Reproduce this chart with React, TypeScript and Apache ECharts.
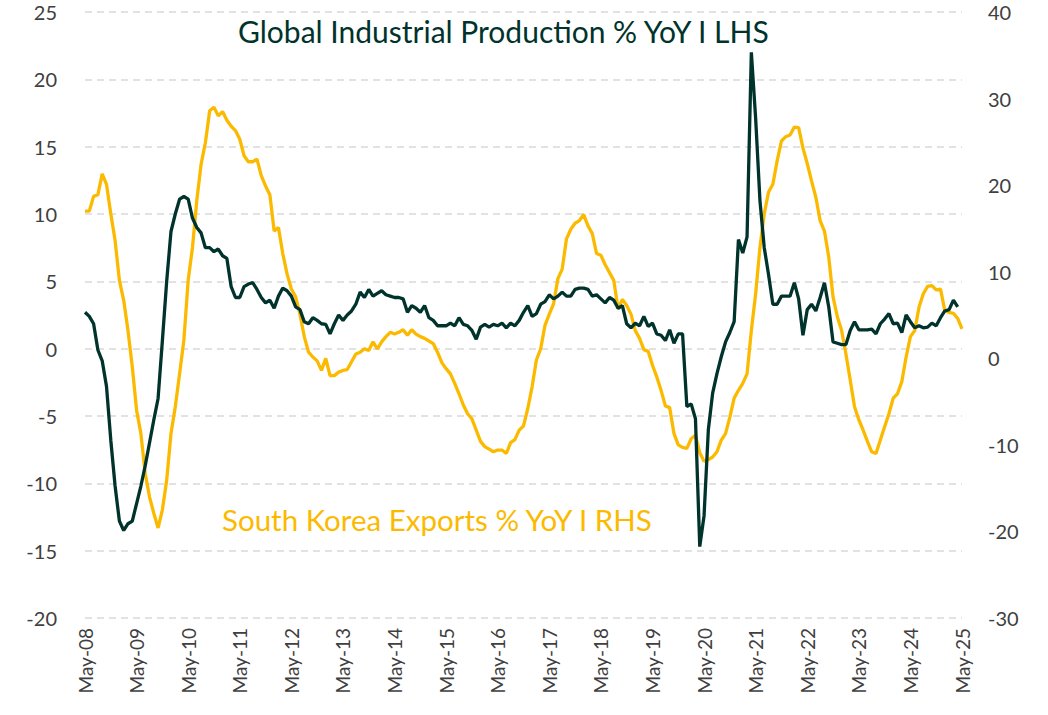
import React, { useEffect, useRef } from "react";
import * as echarts from "echarts";

const startYear = 2008;
const startMonth = 4; // May (0-based)
const monthCount = 205;
const monthNames = ["Jan", "Feb", "Mar", "Apr", "May", "Jun", "Jul", "Aug", "Sep", "Oct", "Nov", "Dec"];
const categories: string[] = [];
for (let k = 0; k < monthCount; k++) {
  const m = (startMonth + k) % 12;
  const y = startYear + Math.floor((startMonth + k) / 12);
  categories.push(`${monthNames[m]}-${String(y % 100).padStart(2, "0")}`);
}

const leftTicks = { min: -20, max: 25, interval: 5 };
const rightTicks = { min: -30, max: 40, interval: 10 };

const globalIP: (number | null)[] = [
  2.7, 2.4, 1.85, -0.1, -0.9, -2.8, -6.8, -10.2, -12.8, -13.5, -13.0, -12.8,
  -11.5, -10.2, -8.7, -7.0, -5.3, -3.7, 0.6, 5.0, 8.7, 10.0, 11.1, 11.3,
  11.1, 9.7, 9.0, 8.6, 7.5, 7.5, 7.2, 7.4, 6.9, 6.7, 4.6, 3.8,
  3.8, 4.6, 4.8, 4.9, 4.4, 3.8, 3.4, 3.6, 3.0, 3.9, 4.5, 4.3,
  3.9, 3.1, 2.9, 2.0, 1.85, 2.3, 2.1, 1.85, 1.8, 1.1, 1.85, 2.5,
  2.1, 2.5, 2.8, 3.3, 4.2, 3.8, 4.4, 3.9, 4.1, 4.3, 4.0, 3.9,
  3.8, 3.8, 3.7, 2.7, 3.2, 3.0, 2.7, 3.2, 2.3, 2.1, 1.7, 1.7,
  1.7, 1.9, 1.7, 2.3, 1.8, 1.7, 1.35, 0.7, 1.6, 1.8, 1.6, 1.8,
  1.7, 1.9, 1.55, 1.9, 1.7, 2.1, 2.7, 3.2, 2.4, 2.6, 3.3, 3.5,
  4.0, 3.7, 3.9, 4.2, 3.9, 3.9, 4.4, 4.5, 4.5, 4.4, 3.9, 4.0,
  3.7, 3.4, 3.8, 3.6, 3.0, 3.2, 1.85, 1.55, 1.9, 1.7, 2.4, 1.65,
  1.9, 1.1, 1.0, 0.6, 1.4, 0.4, 1.1, 1.1, -4.3, -4.1, -5.2, -14.7,
  -12.4, -6.0, -3.3, -1.85, -0.6, 0.5, 1.2, 2.0, 8.1, 7.1, 8.3, 22.0,
  17.1, 11.0, 7.5, 5.5, 3.3, 3.3, 3.9, 3.9, 3.9, 4.9, 3.7, 1.0,
  2.9, 3.3, 2.8, 3.8, 4.9, 3.1, 0.5, 0.4, 0.3, 0.3, 1.35, 2.0,
  1.4, 1.4, 1.4, 1.45, 1.1, 1.85, 2.2, 2.6, 1.85, 1.9, 1.2, 2.5,
  2.0, 1.55, 1.7, 1.55, 1.6, 1.9, 1.7, 2.3, 2.8, 2.9, 3.6, 3.1,
  null,
];

const koreaExports: number[] = [
  17.0, 17.0, 18.7, 18.9, 21.3, 20.1, 16.7, 13.6, 9.0, 6.7, 3.2, -1.0,
  -6.0, -8.7, -13.3, -16.0, -17.9, -19.6, -17.5, -14.1, -8.7, -5.6, -1.8, 2.1,
  9.0, 12.8, 18.2, 22.4, 24.9, 28.6, 29.0, 28.0, 28.5, 27.5, 26.8, 26.3,
  25.3, 23.4, 22.7, 22.7, 23.0, 21.1, 19.9, 18.9, 14.7, 15.1, 12.1, 9.75,
  8.0, 7.1, 5.1, 2.5, 0.7, 0.15, -0.3, -1.4, 0.0, -2.0, -2.0, -1.6,
  -1.4, -1.3, -0.4, 0.5, 0.7, 1.1, 0.9, 1.9, 1.1, 1.9, 2.5, 3.0,
  2.8, 3.0, 3.3, 2.65, 3.3, 2.8, 2.5, 2.3, 2.0, 1.7, 0.7, -0.5,
  -1.2, -1.8, -2.9, -4.1, -5.4, -6.4, -7.0, -8.3, -9.6, -10.2, -10.5, -10.8,
  -10.6, -10.6, -11.0, -9.75, -9.4, -8.3, -7.8, -5.8, -3.3, -0.2, 1.1, 3.8,
  5.1, 6.3, 9.2, 10.3, 13.8, 14.9, 15.6, 15.9, 16.6, 15.3, 14.4, 12.1,
  11.9, 10.8, 9.9, 9.0, 5.7, 6.8, 6.1, 5.1, 3.2, 2.3, 1.0, 0.8,
  -0.8, -2.15, -3.7, -5.5, -5.7, -8.7, -10.0, -10.3, -10.4, -9.3, -8.9, -10.9,
  -11.9, -11.7, -11.4, -10.8, -9.45, -8.7, -6.8, -4.6, -3.7, -2.9, -1.8, 3.2,
  7.45, 12.8, 16.7, 19.2, 20.1, 22.8, 25.1, 25.6, 25.8, 26.7, 26.65, 24.3,
  22.5, 20.5, 18.6, 15.9, 14.7, 11.7, 7.1, 4.8, 3.2, 0.5, -2.5, -5.6,
  -7.1, -8.3, -9.6, -10.8, -11.0, -9.45, -7.9, -6.4, -4.6, -4.1, -2.7, 0.15,
  2.5, 3.2, 5.9, 7.45, 8.3, 8.4, 7.9, 8.0, 5.5, 5.3, 5.2, 4.6,
  3.4,
];

const seriesNames = ["Global Industrial Production % YoY I LHS", "South Korea Exports % YoY I RHS"];

const DARK = "#00332c";
const YELLOW = "#fbba00";
const FONT = "Lato, 'DejaVu Sans', sans-serif";

export default function App() {
  const ref = useRef<HTMLDivElement>(null);

  useEffect(() => {
    document.body.style.margin = "0";
    if (!ref.current) return;
    const chart = echarts.init(ref.current, null, { renderer: "svg" });
    const axisLabelStyle = { color: "#404040", fontSize: 20, fontFamily: FONT };
    chart.setOption({
      animation: false,
      backgroundColor: "#ffffff",
      grid: { left: 85, right: 86, top: 12, bottom: 97, containLabel: false },
      xAxis: {
        type: "category",
        data: categories,
        boundaryGap: false,
        axisLine: { show: false },
        axisTick: { show: false },
        axisLabel: {
          interval: 11,
          rotate: 90,
          margin: 10,
          color: "#404040",
          fontSize: 19,
          fontFamily: FONT,
        },
        splitLine: { show: false },
      },
      yAxis: [
        {
          type: "value",
          position: "left",
          min: leftTicks.min,
          max: leftTicks.max,
          interval: leftTicks.interval,
          axisLine: { show: false },
          axisTick: { show: false },
          axisLabel: { ...axisLabelStyle, margin: 28 },
          splitLine: { show: true, lineStyle: { color: "#d9d9d9", type: [7, 5], width: 1.5 } },
        },
        {
          type: "value",
          position: "right",
          min: rightTicks.min,
          max: rightTicks.max,
          interval: rightTicks.interval,
          axisLine: { show: false },
          axisTick: { show: false },
          axisLabel: { ...axisLabelStyle, margin: 26 },
          splitLine: { show: false },
        },
      ],
      series: [
        {
          name: seriesNames[1],
          type: "line",
          yAxisIndex: 1,
          data: koreaExports,
          showSymbol: false,
          lineStyle: { color: YELLOW, width: 3.3 },
          itemStyle: { color: YELLOW },
          z: 2,
        },
        {
          name: seriesNames[0],
          type: "line",
          yAxisIndex: 0,
          data: globalIP,
          showSymbol: false,
          connectNulls: false,
          lineStyle: { color: DARK, width: 3.3 },
          itemStyle: { color: DARK },
          z: 3,
        },
      ],
      graphic: [
        {
          type: "text",
          left: 238,
          top: 16,
          style: { text: seriesNames[0], fill: DARK, font: `30px ${FONT}` },
        },
        {
          type: "text",
          left: 222,
          top: 504,
          style: { text: seriesNames[1], fill: YELLOW, font: `29.5px ${FONT}` },
        },
      ],
    });
    return () => chart.dispose();
  }, []);

  return <div ref={ref} style={{ width: 1048, height: 715 }} />;
}
